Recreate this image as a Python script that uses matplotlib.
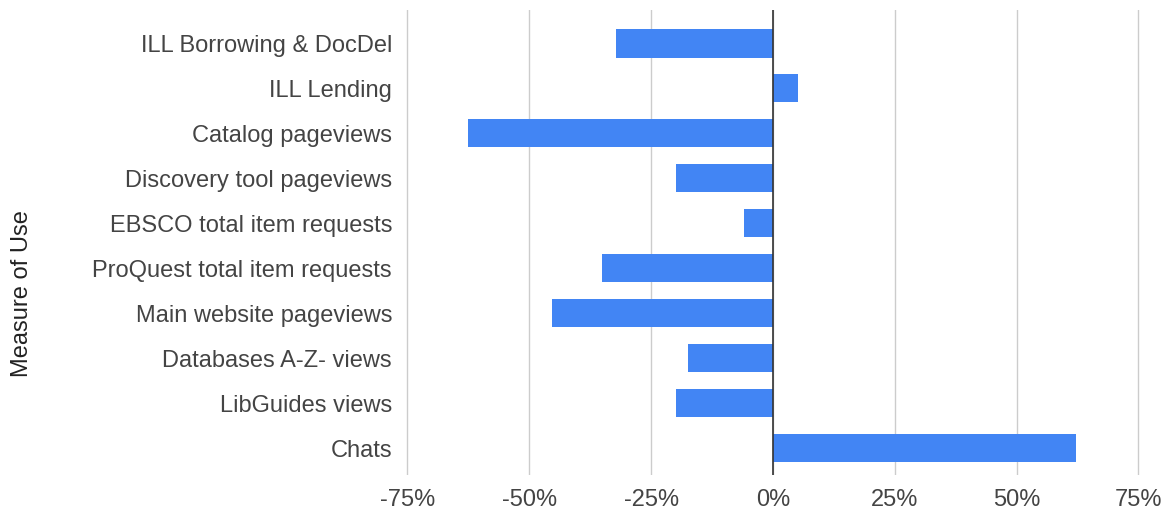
import matplotlib.pyplot as plt
from matplotlib.ticker import FixedLocator

measures = ["ILL Borrowing & DocDel", "ILL Lending", "Catalog pageviews",
            "Discovery tool pageviews", "EBSCO total item requests",
            "ProQuest total item requests", "Main website pageviews",
            "Databases A-Z- views", "LibGuides views", "Chats"]
change = [-32.2, 5.1, -62.6, -19.8, -5.9, -35.0, -45.3, -17.4, -19.8, 62.1]
xticks = [-75, -50, -25, 0, 25, 50, 75]
xtick_labels = ["-75%", "-50%", "-25%", "0%", "25%", "50%", "75%"]

plt.rcParams['font.family'] = ['Liberation Sans', 'DejaVu Sans']

fig = plt.figure(figsize=(11.65, 5.13), dpi=100)
ax = fig.add_axes([0.3485, 0.074, 0.63, 0.906])

pos = list(range(len(measures)))
ax.barh(pos, change, height=0.64, color='#4285f4', zorder=3)

ax.set_xlim(-75.3, 75.3)
ax.set_ylim(9.6, -0.73)
ax.xaxis.set_major_locator(FixedLocator(xticks))
ax.set_xticklabels(xtick_labels)
ax.set_yticks(pos)
ax.set_yticklabels(measures)
ax.grid(axis='x', color='#cccccc', linewidth=1, zorder=0)
ax.axvline(0, color='#333333', linewidth=1.2, zorder=4)

for s in ax.spines.values():
    s.set_visible(False)
ax.tick_params(length=0, labelsize=17, labelcolor='#444444')
ax.tick_params(axis='y', pad=10)
ax.tick_params(axis='x', pad=10)

fig.text(0.019, 0.427, "Measure of Use", rotation=90, ha='center', va='center',
         fontsize=17, color='#222222')

plt.savefig("out.png", dpi=100)
